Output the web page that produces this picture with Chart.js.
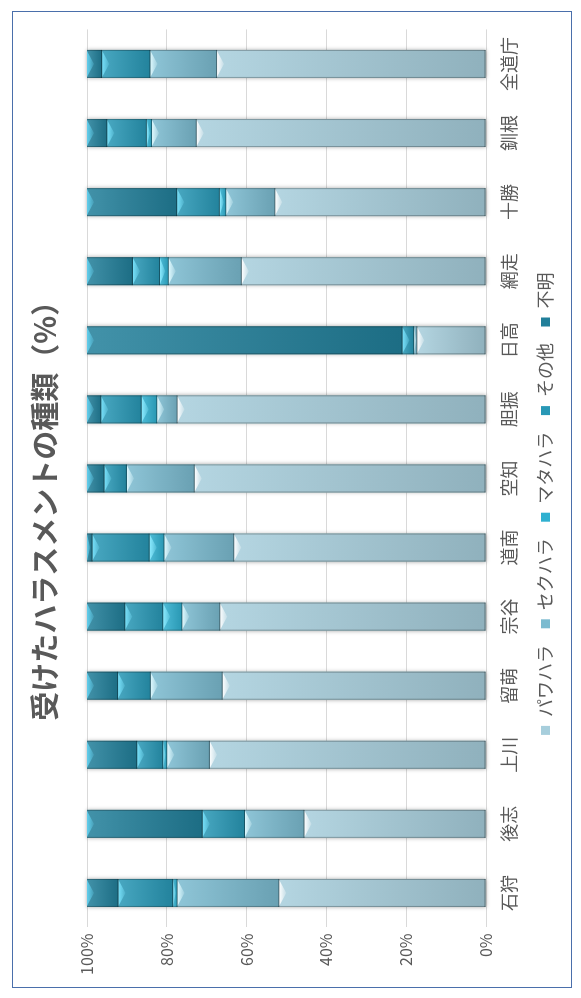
<!DOCTYPE html>
<html><head><meta charset="utf-8">
<script src="https://cdn.jsdelivr.net/npm/chart.js@4.4.1/dist/chart.umd.min.js"></script>
<style>
html,body{margin:0;padding:0;background:#fff;overflow:hidden;width:581px;height:998px;}
#rot{position:absolute;left:0;top:0;width:998px;height:581px;transform-origin:0 0;transform:translate(0,998px) rotate(-90deg);}
#frame{position:absolute;left:10px;top:12px;width:975px;height:558px;border:1.5px solid #4a6fab;}
canvas{position:absolute;left:0;top:0;}
</style></head>
<body><div id="rot"><div id="frame"></div><canvas id="c" width="998" height="581" style="width:998px;height:581px"></canvas></div>
<script>
const categories = ['石狩','後志','上川','留萌','宗谷','道南','空知','胆振','日高','網走','十勝','釧根','全道庁'];
const seriesNames = ['パワハラ','セクハラ','マタハラ','その他','不明'];
const powaHara = [51.8, 45.5, 69.2, 66.0, 66.6, 63.1, 73.0, 77.3, 17.2, 61.2, 52.8, 72.5, 67.4];
const sekuHara = [25.5, 14.9, 10.7, 18.0,  9.5, 17.5, 17.0,  5.1,  0.8, 18.3, 12.3, 11.2, 16.7];
const mataHara = [ 1.1,  0.0,  1.0,  0.0,  4.8,  3.7,  0.0,  3.9,  0.0,  2.2,  1.6,  1.3,  0.0];
const sonota   = [13.7, 10.6,  6.5,  8.2,  9.5, 14.3,  5.6, 10.1,  2.9,  6.8, 10.7,  9.9, 12.1];
const fumei    = [ 7.9, 29.0, 12.6,  7.8,  9.6,  1.4,  4.4,  3.6, 79.1, 11.5, 22.6,  5.1,  3.8];
const yTicks = [0, 20, 40, 60, 80, 100];
const seriesColors = ['#a7cedc', '#7bbbd0', '#2fb0d0', '#2898b6', '#217f9a'];
const bevelColors = ['255,255,255', '225,250,255', '140,235,255', '120,225,250', '100,210,240'];
const titleText = '受けたハラスメントの種類（%）';

const FONT = "'Noto Sans CJK JP', 'Noto Sans', sans-serif";
const GRAY = '#595959';

const shade = {
  id: 'shade',
  beforeDatasetsDraw(chart) {
    const ctx = chart.ctx;
    const metas = chart.getSortedVisibleDatasetMetas();
    ctx.save();
    for (let i = 0; i < chart.data.labels.length; i++) {
      let top = Infinity, bot = -Infinity, x = 0, w = 0;
      metas.forEach(m => {
        const el = m.data[i]; if (!el) return;
        const p = el.getProps(['x','y','base','width'], true);
        top = Math.min(top, p.y, p.base); bot = Math.max(bot, p.y, p.base); x = p.x; w = p.width;
      });
      ctx.shadowColor = 'rgba(0,0,0,0.35)'; ctx.shadowBlur = 4;
      ctx.fillStyle = '#8aa';
      ctx.fillRect(x - w/2, top, w, bot - top);
    }
    ctx.restore();
  },
  afterDatasetsDraw(chart) {
    const ctx = chart.ctx;
    ctx.save();
    chart.getSortedVisibleDatasetMetas().forEach(m => {
      const bc = bevelColors[m.index];
      m.data.forEach(el => {
        const p = el.getProps(['x','y','base','width'], true);
        const t = Math.min(p.y, p.base), b = Math.max(p.y, p.base), h = b - t;
        if (h < 0.5) return;
        const l = p.x - p.width/2, r = p.x + p.width/2, w = p.width;
        const g = ctx.createLinearGradient(0, t, 0, b);
        g.addColorStop(0, 'rgba(255,255,255,0.15)');
        g.addColorStop(1, 'rgba(0,0,0,0.14)');
        ctx.fillStyle = g; ctx.fillRect(l, t, w, h);
        ctx.fillStyle = 'rgba(0,0,0,0.25)';
        ctx.fillRect(l, t, 1, h); ctx.fillRect(r - 1, t, 1, h);
        const bv = Math.min(7, h * 0.6);
        const g2 = ctx.createLinearGradient(0, t, 0, t + bv);
        g2.addColorStop(0, 'rgba(' + bc + ',0.95)');
        g2.addColorStop(1, 'rgba(' + bc + ',0.2)');
        ctx.fillStyle = g2;
        ctx.beginPath(); ctx.moveTo(l + 1, t); ctx.lineTo(r - 1, t); ctx.lineTo(p.x, t + bv); ctx.closePath(); ctx.fill();
        ctx.fillStyle = 'rgba(0,0,0,0.35)';
        ctx.fillRect(l, b - 1, w, 1);
      });
    });
    ctx.restore();
  }
};

const seriesData = [powaHara, sekuHara, mataHara, sonota, fumei];
new Chart(document.getElementById('c'), {
  type: 'bar',
  data: {
    labels: categories,
    datasets: seriesNames.map((n, i) => ({
      label: n, data: seriesData[i], backgroundColor: seriesColors[i],
      borderWidth: 0, categoryPercentage: 1, barPercentage: 0.405
    }))
  },
  plugins: [shade],
  options: {
    responsive: false, animation: false, devicePixelRatio: 1,
    layout: { padding: { left: 20, right: 29.4, top: 0, bottom: 16.6 } },
    plugins: {
      title: { display: true, text: titleText, color: GRAY,
        font: { family: FONT, size: 29, weight: 'bold', lineHeight: 1.2 },
        padding: { top: 27.6, bottom: 24.6 } },
      legend: { position: 'bottom',
        labels: { color: GRAY, font: { family: FONT, size: 18 }, boxWidth: 9, boxHeight: 9, padding: 16.6 } },
      tooltip: { enabled: false }
    },
    scales: {
      x: { stacked: true,
        grid: { display: false, drawTicks: false }, border: { display: false },
        ticks: { color: GRAY, font: { family: FONT, size: 18, lineHeight: 1.2 }, padding: 12.2, maxRotation: 0 },
        afterFit: s => { s.height = 33.8; } },
      y: { stacked: true, min: 0, max: 100,
        afterBuildTicks: s => { s.ticks = yTicks.map(v => ({ value: v })); },
        grid: { color: '#d9d9d9', drawTicks: false }, border: { display: false },
        ticks: { color: GRAY, font: { family: FONT, size: 16 }, padding: 6, callback: v => v + '%' },
        afterFit: s => { s.width = 50.5; } }
    }
  }
});
</script></body></html>
